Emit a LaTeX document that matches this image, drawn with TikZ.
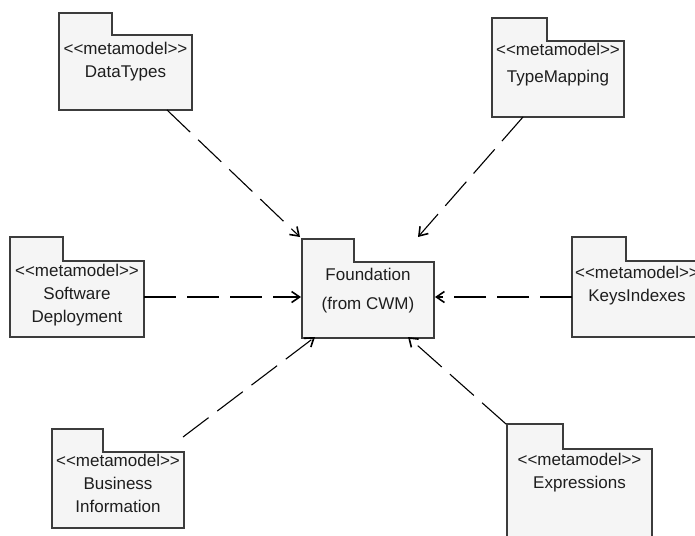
\documentclass[tikz,border=0pt]{standalone}
\usepackage{fontspec}
\setmainfont{Liberation Sans}
\usetikzlibrary{arrows.meta,calc}

\definecolor{pkgline}{HTML}{3C3C3C}
\definecolor{pkgfill}{HTML}{F5F5F5}
\definecolor{pkgtext}{HTML}{1E1E1E}

\tikzset{
  pkgbody/.style={fill=pkgfill, inner sep=0pt, outer sep=0pt,
                  rectangle, anchor=north west},
  pkgtab/.style={fill=pkgfill, inner sep=0pt, outer sep=0pt,
                 rectangle, anchor=south west},
  pkgoutline/.style={draw=pkgline, line width=1.5pt, line join=miter},
  % labels are placed by the baseline of their last line
  pkglabel/.style={text=pkgtext, align=center, anchor=base, inner sep=0pt,
                   font=\fontsize{17}{23}\selectfont},
  dep/.style={draw=black, line width=1.1pt, dash pattern=on 32pt off 11pt,
              -{Straight Barb[length=8pt, width=11pt, line width=1.6pt]}}
}

% one outline around a package's tab and body
\newcommand\pkgoutline[1]{%
  \draw[pkgoutline] (#1tab.south west) -- (#1tab.north west) -- (#1tab.north east)
    -- (#1tab.south east) -- (#1.north east) -- (#1.south east)
    -- (#1.south west) -- cycle;}

\begin{document}
\begin{tikzpicture}[x=1pt, y=-1pt]
  \useasboundingbox (0,0) rectangle (695,535);
  \clip (0,0) rectangle (695,535);

  % packages: tab and body areas, their common outline, then the label
  \node[pkgtab, minimum width=53pt, minimum height=22pt] (dttab) at (59,35) {};
  \node[pkgbody, minimum width=133pt, minimum height=75pt] (dt) at (59,35) {};
  \pkgoutline{dt}
  \node[pkglabel] (dtl) at (125.5,77) {<{}<metamodel>{}>\\DataTypes};

  \node[pkgtab, minimum width=55pt, minimum height=23pt] (tmtab) at (492,41) {};
  \node[pkgbody, minimum width=132pt, minimum height=76pt] (tm) at (492,41) {};
  \pkgoutline{tm}
  \node[pkglabel] (tml) at (558,82) {<{}<metamodel>{}>\\[3.5pt]TypeMapping};

  \node[pkgtab, minimum width=52pt, minimum height=23pt] (fdtab) at (302,262) {};
  \node[pkgbody, minimum width=132pt, minimum height=76pt] (fd) at (302,262) {};
  \pkgoutline{fd}
  \node[pkglabel] (fdl) at (368,309) {Foundation\\[6pt](from CWM)};

  \node[pkgtab, minimum width=53pt, minimum height=24pt] (sdtab) at (10,261) {};
  \node[pkgbody, minimum width=134pt, minimum height=76pt] (sd) at (10,261) {};
  \pkgoutline{sd}
  \node[pkglabel] (sdl) at (77,322.5) {<{}<metamodel>{}>\\Software\\Deployment};

  \node[pkgtab, minimum width=54pt, minimum height=24pt] (kitab) at (572,261) {};
  \node[pkgbody, minimum width=132pt, minimum height=76pt] (ki) at (572,261) {};
  \pkgoutline{ki}
  \node[pkglabel] (kil) at (637,301) {<{}<metamodel>{}>\\KeysIndexes};

  \node[pkgtab, minimum width=51pt, minimum height=23pt] (bitab) at (52,452) {};
  \node[pkgbody, minimum width=132pt, minimum height=76pt] (bi) at (52,452) {};
  \pkgoutline{bi}
  \node[pkglabel] (bil) at (118,512) {<{}<metamodel>{}>\\Business\\Information};

  \node[pkgtab, minimum width=56pt, minimum height=25pt] (extab) at (507,449) {};
  \node[pkgbody, minimum width=145pt, minimum height=110pt] (ex) at (507,449) {};
  \pkgoutline{ex}
  \node[pkglabel] (exl) at (579.5,488.5) {<{}<metamodel>{}>\\Expressions};

  % dependencies towards Foundation
  \draw[dep] ($(dt.south west)+(108,0)$) -- ($(fdtab.north west)+(-2,-2)$);
  \draw[dep] ($(tm.south west)+(31,0)$) -- ($(fd.north west)+(116,-25)$);
  \draw[dep] ($(sd.east)+(0,-2)$) -- ($(sd.east -| fd.west)+(-1,-2)$);
  \draw[dep] ($(ki.west)+(0,-2)$) -- ($(ki.west -| fd.east)+(1,-2)$);
  \draw[dep] ($(bi.north east)+(-1,-15)$) -- ($(fd.south west)+(13,-1)$);
  \draw[dep] ($(extab.north west)+(-1,0)$) -- ($(fd.south west)+(106,-1)$);
\end{tikzpicture}
\end{document}
